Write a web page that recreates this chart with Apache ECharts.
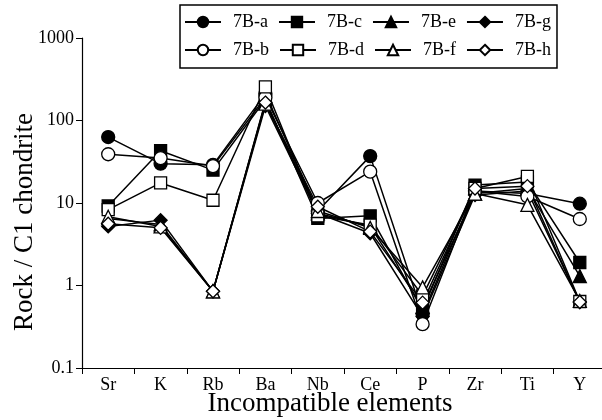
<!DOCTYPE html>
<html>
<head>
<meta charset="utf-8">
<script src="https://cdn.jsdelivr.net/npm/echarts@6/dist/echarts.min.js"></script>
<style>
  html, body { margin: 0; padding: 0; background: #fff; }
  #main { width: 602px; height: 420px; }
</style>
</head>
<body>
<div id="main"></div>
<script>
const elements = ['Sr', 'K', 'Rb', 'Ba', 'Nb', 'Ce', 'P', 'Zr', 'Ti', 'Y'];

const s7Ba = [63, 30, 29, 210, 8, 37, 0.45, 14, 13, 9.8];
const s7Bb = [39, 35, 28, 190, 10, 24, 0.34, 14, 12, 6.4];
const s7Bc = [9.2, 43, 25, 180, 6.5, 7.0, 0.5, 16.5, 18, 1.9];
const s7Bd = [8.3, 17.5, 10.8, 255, 7, 5.4, 0.75, 15, 21, 0.64];
const s7Be = [6.5, 5.5, 0.85, 170, 7.5, 5.2, 0.55, 13, 15, 1.3];
const s7Bf = [6.8, 5.2, 0.85, 160, 8, 5, 0.95, 13, 9.5, 0.65];
const s7Bg = [5.2, 6.2, 0.85, 150, 7.5, 4.3, 0.42, 12.5, 14, 0.63];
const s7Bh = [5.6, 5.0, 0.85, 165, 9, 4.5, 0.62, 15, 16, 0.63];

const seriesDefs = [
  { name: '7B-a', data: s7Ba, symbol: 'circle', filled: true },
  { name: '7B-c', data: s7Bc, symbol: 'rect', filled: true },
  { name: '7B-e', data: s7Be, symbol: 'triangle', filled: true },
  { name: '7B-g', data: s7Bg, symbol: 'diamond', filled: true },
  { name: '7B-b', data: s7Bb, symbol: 'circle', filled: false },
  { name: '7B-d', data: s7Bd, symbol: 'rect', filled: false },
  { name: '7B-f', data: s7Bf, symbol: 'triangle', filled: false },
  { name: '7B-h', data: s7Bh, symbol: 'diamond', filled: false }
];

const chartDom = document.getElementById('main');
const myChart = echarts.init(chartDom, null, { renderer: 'canvas' });

const font = 'Liberation Serif';

const myChartOption = {
  animation: false,
  backgroundColor: '#fff',
  textStyle: { fontFamily: font, color: '#000' },
  legend: {
    data: seriesDefs.map(s => s.name),
    left: 180,
    top: 5,
    width: 420,
    orient: 'horizontal',
    itemWidth: 36,
    itemHeight: 13,
    itemGap: 10,
    padding: [8, 6, 9, 4],
    borderColor: '#000',
    borderWidth: 1.5,
    textStyle: { fontFamily: font, fontSize: 18, color: '#000', padding: [0, 0, 0, 7], width: 47 }
  },
  grid: {
    left: 82,
    top: 38,
    bottom: 52,
    width: 524,
    containLabel: false,
    outerBoundsMode: 'none'
  },
  xAxis: {
    type: 'category',
    data: elements,
    boundaryGap: true,
    name: 'Incompatible elements',
    nameLocation: 'middle',
    nameGap: 22,
    nameMoveOverlap: false,
    nameTextStyle: { fontFamily: font, fontSize: 27, color: '#000', padding: [0, 28, 0, 0] },
    axisLine: { lineStyle: { color: '#000', width: 1.2 } },
    axisTick: { show: true, length: 6, lineStyle: { color: '#000' } },
    axisLabel: { fontFamily: font, fontSize: 18, color: '#000', margin: 8 },
    splitLine: { show: false }
  },
  yAxis: {
    type: 'log',
    logBase: 10,
    min: 0.1,
    max: 1000,
    name: 'Rock / C1 chondrite',
    nameLocation: 'middle',
    nameGap: 44,
    nameMoveOverlap: false,
    nameTextStyle: { fontFamily: font, fontSize: 27, color: '#000', padding: [0, 38, 0, 0] },
    axisLine: { show: true, lineStyle: { color: '#000', width: 1.2 } },
    axisTick: { show: true, length: 6, lineStyle: { color: '#000' } },
    axisLabel: {
      fontFamily: font, fontSize: 18, color: '#000', margin: 8,
      formatter: function (v) { return v < 1 ? '0.1' : String(Math.round(v)); }
    },
    splitLine: { show: false },
    minorTick: { show: false }
  },
  series: seriesDefs.map(s => ({
    name: s.name,
    type: 'line',
    data: s.data,
    symbol: s.symbol,
    symbolSize: s.symbol === 'rect' ? 12 : 13,
    showAllSymbol: true,
    lineStyle: { color: '#000', width: 1.5 },
    itemStyle: {
      color: s.filled ? '#000' : '#fff',
      borderColor: '#000',
      borderWidth: 1.3
    },
    emphasis: { disabled: true }
  }))
};

myChartOption && myChart.setOption(myChartOption);
</script>
</body>
</html>
